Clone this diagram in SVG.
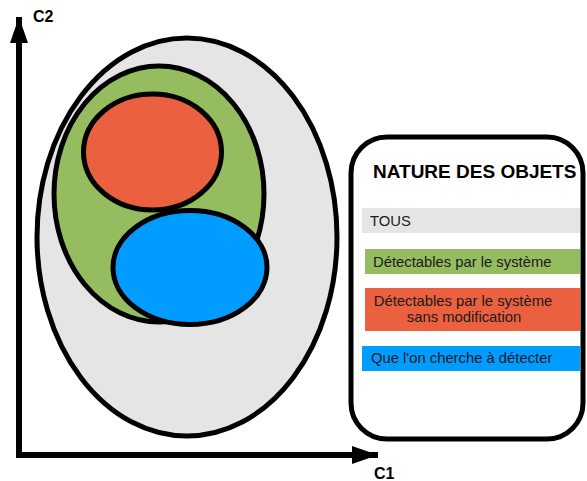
<svg xmlns="http://www.w3.org/2000/svg" width="587" height="481" viewBox="0 0 587 481">
  <style>
    .set { stroke: #000; stroke-width: 5; }
    .axis { stroke: #000; stroke-width: 6; fill: none; }
    .axlabel { font-family: "Liberation Sans", Arial, sans-serif; font-weight: bold; font-size: 16px; fill: #000; }
    .title { font-family: "Liberation Sans", Arial, sans-serif; font-weight: bold; font-size: 19px; fill: #000; }
    .item { font-family: "Liberation Sans", Arial, sans-serif; font-size: 14.8px; fill: #1a1a1a; }
  </style>
  <defs>
    <marker id="arrow" markerUnits="userSpaceOnUse" markerWidth="28" markerHeight="20" refX="26" refY="10" orient="auto">
      <path d="M0,1 L26,10 L0,19 Z" fill="#000"/>
    </marker>
  </defs>
  <rect width="587" height="481" fill="#fff"/>

  <!-- axes -->
  <g id="connectors">
    <path class="axis" d="M19,455 L19,17" marker-end="url(#arrow)"/>
    <path class="axis" d="M16,455 L378,455" marker-end="url(#arrow)"/>
  </g>
  <text class="axlabel" x="33" y="22">C2</text>
  <text class="axlabel" x="374" y="479">C1</text>

  <!-- nested sets -->
  <g id="tous">
    <ellipse class="set" cx="187" cy="237" rx="150" ry="199" fill="#e5e5e5"/>
  </g>
  <g id="detectables">
    <ellipse class="set" cx="159" cy="194" rx="105" ry="128" fill="#95bc5e"/>
  </g>
  <g id="sans-modification">
    <ellipse class="set" cx="152.5" cy="152" rx="69" ry="58" fill="#eb6140"/>
  </g>
  <g id="recherches">
    <ellipse class="set" cx="190" cy="267.5" rx="77" ry="57" fill="#009cff"/>
  </g>

  <!-- legend -->
  <g id="legende">
    <rect x="351" y="137" width="232" height="302" rx="36" ry="36" fill="#fff" stroke="#000" stroke-width="5"/>
    <text class="title" x="373" y="178">NATURE DES OBJETS</text>
    <rect x="362" y="208" width="218" height="25" fill="#e5e5e5"/>
    <text class="item" x="370" y="226">TOUS</text>
    <rect x="365" y="249" width="215" height="25" fill="#95bc5e"/>
    <text class="item" x="373" y="267">Détectables par le système</text>
    <rect x="365" y="288" width="215" height="43" fill="#eb6140"/>
    <text class="item" x="463" y="306" text-anchor="middle">Détectables par le système</text>
    <text class="item" x="464" y="322" text-anchor="middle">sans modification</text>
    <rect x="362" y="346" width="218" height="25" fill="#009cff"/>
    <text class="item" x="371" y="363">Que l'on cherche à détecter</text>
  </g>
</svg>
